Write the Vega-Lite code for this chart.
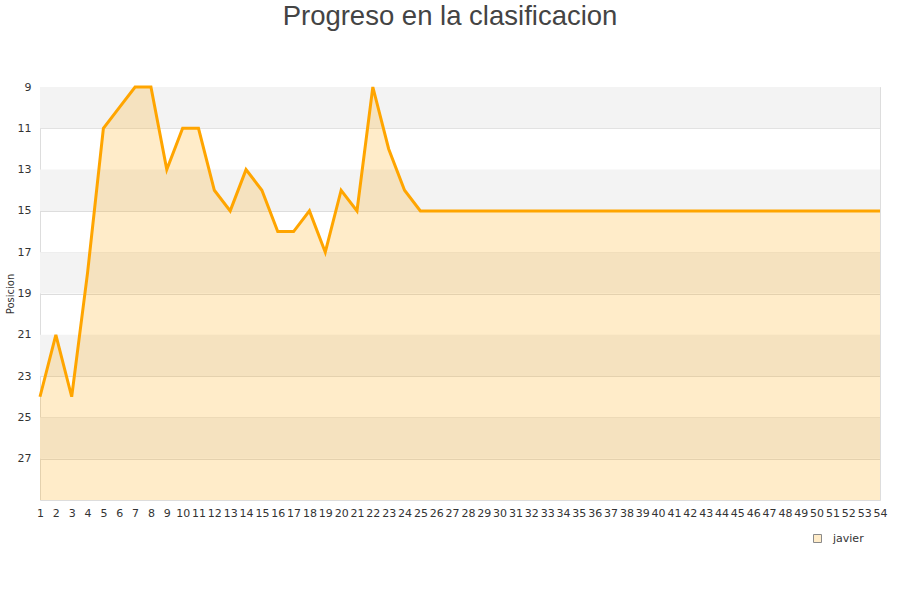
{
  "$schema": "https://vega.github.io/schema/vega-lite/v6.json",
  "title": {
    "text": "Progreso en la clasificacion",
    "font": "Liberation Sans",
    "fontSize": 27.5,
    "fontWeight": "normal",
    "color": "#444444",
    "anchor": "middle",
    "dx": -10,
    "offset": 51
  },
  "autosize": "none",
  "padding": {"left": 40, "top": 87, "right": 20, "bottom": 100},
  "width": 840,
  "height": 413,
  "config": {
    "font": "DejaVu Sans",
    "view": {"stroke": "#dddddd"}
  },
  "datasets": {
    "bands": [
      {"desde": 9, "hasta": 11},
      {"desde": 13, "hasta": 15},
      {"desde": 17, "hasta": 19},
      {"desde": 21, "hasta": 23},
      {"desde": 25, "hasta": 27}
    ],
    "progreso": [
      {"jornada": 1, "posicion": 24, "jugador": "javier"},
      {"jornada": 2, "posicion": 21, "jugador": "javier"},
      {"jornada": 3, "posicion": 24, "jugador": "javier"},
      {"jornada": 4, "posicion": 18, "jugador": "javier"},
      {"jornada": 5, "posicion": 11, "jugador": "javier"},
      {"jornada": 6, "posicion": 10, "jugador": "javier"},
      {"jornada": 7, "posicion": 9, "jugador": "javier"},
      {"jornada": 8, "posicion": 9, "jugador": "javier"},
      {"jornada": 9, "posicion": 13, "jugador": "javier"},
      {"jornada": 10, "posicion": 11, "jugador": "javier"},
      {"jornada": 11, "posicion": 11, "jugador": "javier"},
      {"jornada": 12, "posicion": 14, "jugador": "javier"},
      {"jornada": 13, "posicion": 15, "jugador": "javier"},
      {"jornada": 14, "posicion": 13, "jugador": "javier"},
      {"jornada": 15, "posicion": 14, "jugador": "javier"},
      {"jornada": 16, "posicion": 16, "jugador": "javier"},
      {"jornada": 17, "posicion": 16, "jugador": "javier"},
      {"jornada": 18, "posicion": 15, "jugador": "javier"},
      {"jornada": 19, "posicion": 17, "jugador": "javier"},
      {"jornada": 20, "posicion": 14, "jugador": "javier"},
      {"jornada": 21, "posicion": 15, "jugador": "javier"},
      {"jornada": 22, "posicion": 9, "jugador": "javier"},
      {"jornada": 23, "posicion": 12, "jugador": "javier"},
      {"jornada": 24, "posicion": 14, "jugador": "javier"},
      {"jornada": 25, "posicion": 15, "jugador": "javier"},
      {"jornada": 26, "posicion": 15, "jugador": "javier"},
      {"jornada": 27, "posicion": 15, "jugador": "javier"},
      {"jornada": 28, "posicion": 15, "jugador": "javier"},
      {"jornada": 29, "posicion": 15, "jugador": "javier"},
      {"jornada": 30, "posicion": 15, "jugador": "javier"},
      {"jornada": 31, "posicion": 15, "jugador": "javier"},
      {"jornada": 32, "posicion": 15, "jugador": "javier"},
      {"jornada": 33, "posicion": 15, "jugador": "javier"},
      {"jornada": 34, "posicion": 15, "jugador": "javier"},
      {"jornada": 35, "posicion": 15, "jugador": "javier"},
      {"jornada": 36, "posicion": 15, "jugador": "javier"},
      {"jornada": 37, "posicion": 15, "jugador": "javier"},
      {"jornada": 38, "posicion": 15, "jugador": "javier"},
      {"jornada": 39, "posicion": 15, "jugador": "javier"},
      {"jornada": 40, "posicion": 15, "jugador": "javier"},
      {"jornada": 41, "posicion": 15, "jugador": "javier"},
      {"jornada": 42, "posicion": 15, "jugador": "javier"},
      {"jornada": 43, "posicion": 15, "jugador": "javier"},
      {"jornada": 44, "posicion": 15, "jugador": "javier"},
      {"jornada": 45, "posicion": 15, "jugador": "javier"},
      {"jornada": 46, "posicion": 15, "jugador": "javier"},
      {"jornada": 47, "posicion": 15, "jugador": "javier"},
      {"jornada": 48, "posicion": 15, "jugador": "javier"},
      {"jornada": 49, "posicion": 15, "jugador": "javier"},
      {"jornada": 50, "posicion": 15, "jugador": "javier"},
      {"jornada": 51, "posicion": 15, "jugador": "javier"},
      {"jornada": 52, "posicion": 15, "jugador": "javier"},
      {"jornada": 53, "posicion": 15, "jugador": "javier"},
      {"jornada": 54, "posicion": 15, "jugador": "javier"}
    ]
  },
  "layer": [
    {
      "data": {"name": "bands"},
      "mark": {"type": "rect", "fill": "#f3f3f3"},
      "encoding": {
        "y": {"field": "desde", "type": "quantitative"},
        "y2": {"field": "hasta"}
      }
    },
    {
      "data": {"name": "progreso"},
      "mark": {"type": "area", "fillOpacity": 0.21, "interpolate": "linear"},
      "encoding": {
        "x": {"field": "jornada", "type": "quantitative"},
        "y": {"field": "posicion", "type": "quantitative"},
        "y2": {"datum": 29},
        "color": {
          "field": "jugador",
          "type": "nominal",
          "scale": {"range": ["#ffa500"]},
          "legend": {
            "title": null,
            "orient": "none",
            "legendX": 772,
            "legendY": 446,
            "symbolType": "square",
            "symbolSize": 64,
            "symbolStrokeColor": "#8a8a8a",
            "symbolStrokeWidth": 1,
            "labelOffset": 10,
            "labelFontSize": 11,
            "labelColor": "#333333",
            "labelFont": "DejaVu Sans",
            "encode": {
              "symbols": {
                "update": {
                  "stroke": {"value": "#8a8a8a"},
                  "strokeWidth": {"value": 1},
                  "fillOpacity": {"value": 0.21},
                  "strokeOpacity": {"value": 1}
                }
              }
            }
          }
        }
      }
    },
    {
      "data": {"name": "progreso"},
      "mark": {"type": "line", "color": "#ffa500", "strokeWidth": 3},
      "encoding": {
        "x": {"field": "jornada", "type": "quantitative"},
        "y": {"field": "posicion", "type": "quantitative"}
      }
    }
  ],
  "encoding": {
    "x": {
      "type": "quantitative",
      "scale": {"domain": [1, 54], "nice": false, "zero": false},
      "axis": {
        "title": null,
        "values": [1,2,3,4,5,6,7,8,9,10,11,12,13,14,15,16,17,18,19,20,21,22,23,24,25,26,27,28,29,30,31,32,33,34,35,36,37,38,39,40,41,42,43,44,45,46,47,48,49,50,51,52,53,54],
        "grid": false,
        "domain": false,
        "ticks": false,
        "labelOverlap": false,
        "labelFlush": false,
        "labelFontSize": 11,
        "labelColor": "#333333",
        "labelPadding": 7
      }
    },
    "y": {
      "type": "quantitative",
      "scale": {"domain": [9, 29], "nice": false, "zero": false, "reverse": true},
      "axis": {
        "title": "Posicion",
        "titleFontSize": 10,
        "titleFontWeight": "normal",
        "titleColor": "#333333",
        "titlePadding": 2,
        "values": [9, 11, 13, 15, 17, 19, 21, 23, 25, 27],
        "grid": true,
        "gridColor": "#dddddd",
        "domain": false,
        "ticks": false,
        "labelFontSize": 11,
        "labelColor": "#333333",
        "labelPadding": 9
      }
    }
  }
}
